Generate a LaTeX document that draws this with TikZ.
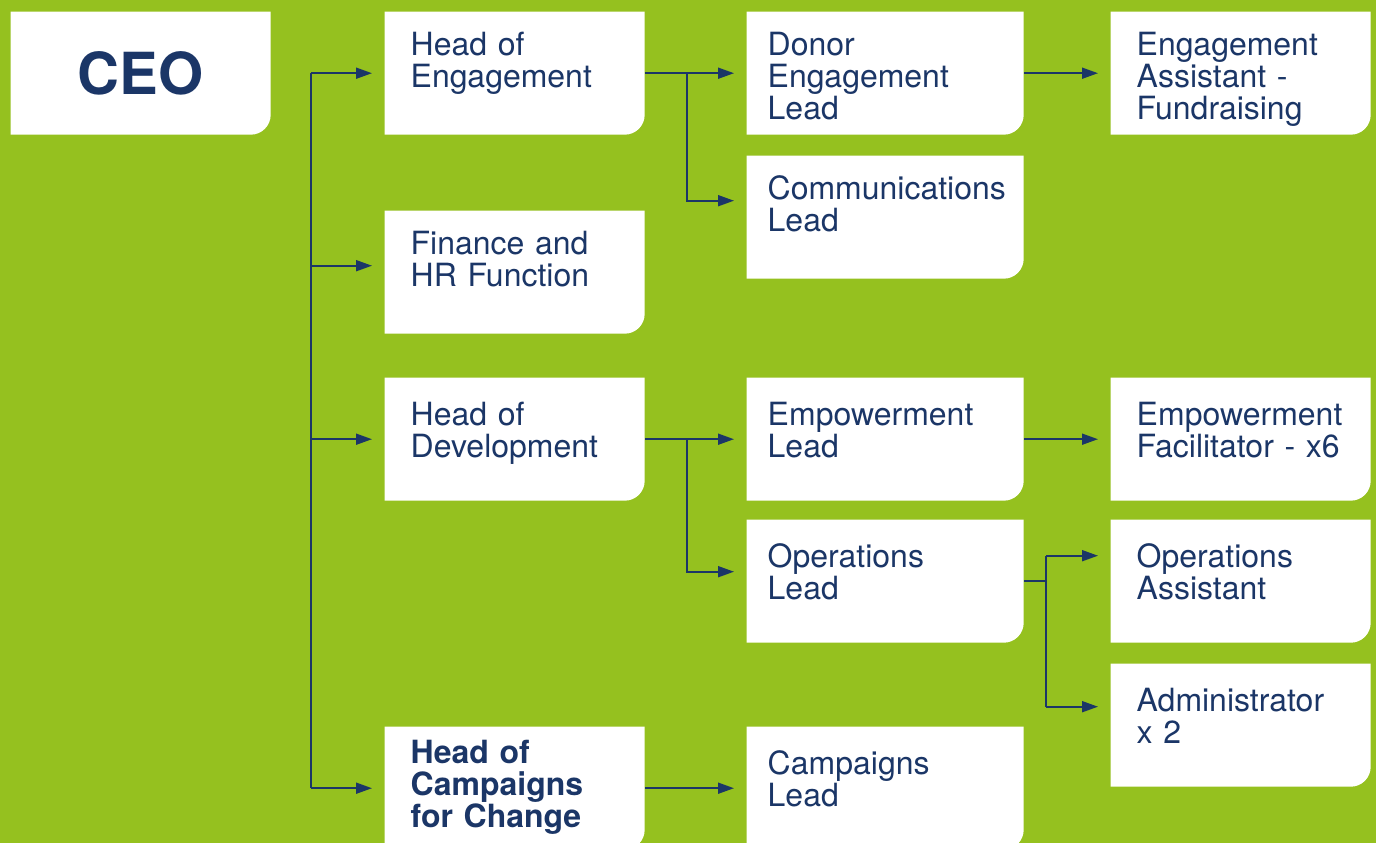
\documentclass[tikz,border=0pt]{standalone}
\usepackage{fontspec}
\setsansfont{TeX Gyre Heros}
\usepackage{xcolor}
\usepackage{tikz}
\usetikzlibrary{arrows.meta}
\definecolor{leaf}{HTML}{95C11F}
\definecolor{navy}{HTML}{1B3667}
\tikzset{
  card/.style={rectangle,anchor=north west,fill=leaf,inner xsep=0.26cm,inner ysep=0pt,
    text width=2.08cm,text height=0.44cm,text depth=0.79cm,align=left,text=navy,
    font=\sffamily\fontsize{9.1pt}{9.1pt}\selectfont,
    path picture={\fill[white] (path picture bounding box.north west) -- (path picture bounding box.north east)
      -- ([yshift=2mm]path picture bounding box.south east) arc[start angle=0,end angle=-90,radius=2mm]
      -- (path picture bounding box.south west) -- cycle;}},
  wide/.style={inner xsep=0.21cm,text width=2.35cm},
  low/.style={text height=0.48cm,text depth=0.75cm},
  head/.style={text height=0.37cm,text depth=0.86cm,font=\sffamily\bfseries\fontsize{9.1pt}{9.1pt}\selectfont},
  link/.style={draw=navy,line width=0.5pt},
  arr/.style={link,-{Triangle[length=1.6mm,width=1.1mm]},shorten >=1.2mm},
}

\begin{document}
\begin{tikzpicture}
  \fill[leaf] (0,0) rectangle (13.76,-8.43);
  \clip (0,0) rectangle (13.76,-8.43);

  % column 0 and 1
  \node[card,align=center,text height=0.83cm,text depth=0.40cm,
        font=\sffamily\bfseries\fontsize{16.5pt}{16.5pt}\selectfont] (ceo) at (0.10,-0.11) {CEO};
  \node[card] (eng)  at (3.84,-0.11) {Head of\\Engagement};
  \node[card] (fin)  at (3.84,-2.10) {Finance and\\HR Function};
  \node[card,low] (dev)  at (3.84,-3.77) {Head of\\Development};
  \node[card,head] (camp) at (3.84,-7.26) {Head of\\Campaigns\\for Change};

  % column 2
  \node[card,wide] (donor)    at (7.46,-0.11) {Donor\\Engagement\\Lead};
  \node[card,wide] (comms)    at (7.46,-1.55) {Communications\\Lead};
  \node[card,wide,low] (emp)  at (7.46,-3.77) {Empowerment\\Lead};
  \node[card,wide,low] (ops)  at (7.46,-5.19) {Operations\\Lead};
  \node[card,wide,low] (campl) at (7.46,-7.26) {Campaigns\\Lead};

  % column 3
  \node[card] (assist)      at (11.10,-0.11) {Engagement\\Assistant -\\Fundraising};
  \node[card,low] (facil)   at (11.10,-3.77) {Empowerment\\Facilitator - x6};
  \node[card,low] (opsasst) at (11.10,-5.19) {Operations\\Assistant};
  \node[card,low] (admin)   at (11.10,-6.63) {Administrator\\x 2};

  % split points and arrow ends
  \coordinate (trunk)  at (3.11,0);
  \coordinate (split1) at (6.87,0);
  \coordinate (split2) at (10.46,0);
  \coordinate (fin-in)     at ([yshift=0.65mm]fin.west);
  \coordinate (comms-in)   at ([yshift=1.65mm]comms.west);
  \coordinate (ops-in)     at ([yshift=0.95mm]ops.west);
  \coordinate (opsasst-in) at ([yshift=2.55mm]opsasst.west);
  \coordinate (admin-in)   at ([yshift=1.85mm]admin.west);

  % CEO trunk
  \draw[link] (trunk |- eng.west) -- (trunk |- camp.west);
  \foreach \n in {eng,fin-in,dev,camp}{
    \draw[arr] (trunk |- \n) -- (\n);
  }

  % second level
  \draw[arr] (eng.east) -- (donor.west);
  \draw[arr] (split1 |- eng.east) |- (comms-in);
  \draw[arr] (dev.east) -- (emp.west);
  \draw[arr] (split1 |- dev.east) |- (ops-in);
  \draw[arr] (camp.east |- campl.west) -- (campl.west);

  % third level
  \draw[arr] (donor.east) -- (assist.west);
  \draw[arr] (emp.east) -- (facil.west);
  \draw[link] (ops.east) -- (split2 |- ops.east);
  \draw[link] (split2 |- opsasst-in) -- (split2 |- admin-in);
  \draw[arr] (split2 |- opsasst-in) -- (opsasst-in);
  \draw[arr] (split2 |- admin-in) -- (admin-in);
\end{tikzpicture}
\end{document}
